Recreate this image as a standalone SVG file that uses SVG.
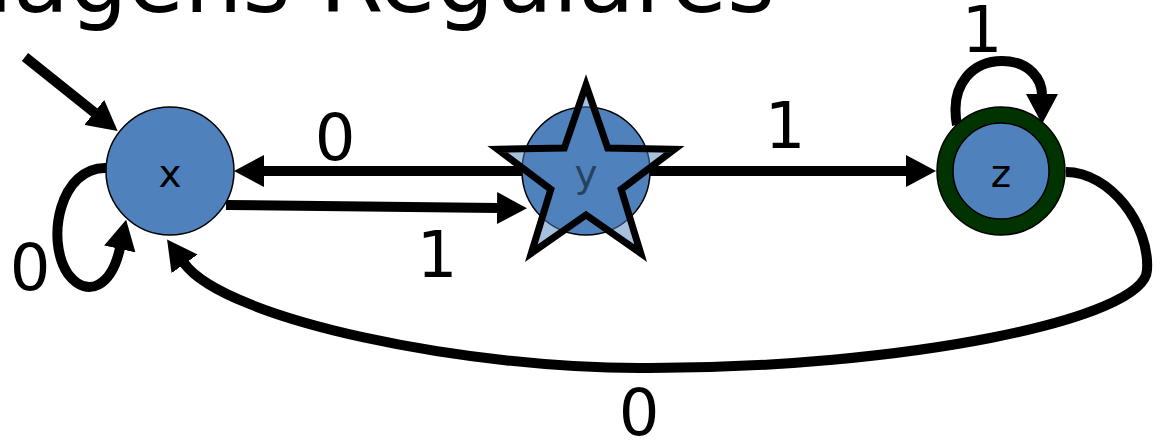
<svg xmlns="http://www.w3.org/2000/svg" width="1165" height="443" viewBox="0 0 1165 443">
<style>
.title{font-family:"DejaVu Sans","Liberation Sans",sans-serif;font-size:92px;fill:#000}
.lbl{font-family:"DejaVu Sans","Liberation Sans",sans-serif;font-size:64px;fill:#000;text-anchor:middle}
.nl{font-family:"DejaVu Sans","Liberation Sans",sans-serif;font-size:39px;fill:#000;text-anchor:middle}
.edge{fill:none;stroke:#000;stroke-width:10;marker-end:url(#ah)}
.st{fill:#4F81BD;stroke:#000;stroke-width:1.5}
</style>
<defs>
<marker id="ah" markerUnits="userSpaceOnUse" viewBox="0 0 30 32" refX="1" refY="16" markerWidth="30" markerHeight="32" orient="auto">
<path d="M0,0 L30,16 L0,32 Z" fill="#000"/>
</marker>
</defs>
<text class="title" x="775" y="12" text-anchor="end">Linguagens Regulares</text>
<g id="connectors">
<path class="edge" d="M25,57 L95,113"/>
<path class="edge" d="M107,168 C60,166 45,240 68,274 C88,300 112,285 120,248"/>
<path class="edge" d="M522,171 L263,171"/>
<path class="edge" d="M226,205 L498,208"/>
<path class="edge" d="M650,171 L907,171"/>
<path class="edge" d="M957,125 C949,82 975,61 1002,61 C1030,61 1042,80 1042,95"/>
<path class="edge" d="M1066,172 C1110,172 1150,225 1147,270 C1145,320 900,368 650,368 C470,370 225,320 184,263"/>
</g>
<g id="edge-labels">
<text class="lbl" x="30" y="290">0</text>
<text class="lbl" x="335" y="160">0</text>
<text class="lbl" x="437" y="277">1</text>
<text class="lbl" x="785" y="148">1</text>
<text class="lbl" x="982" y="52">1</text>
<text class="lbl" x="639" y="435">0</text>
</g>
<g id="node-x">
<circle class="st" cx="170" cy="171" r="64"/>
<text class="nl" x="170" y="187">x</text>
</g>
<g id="node-y">
<circle class="st" cx="586" cy="171" r="64"/>
<text class="nl" x="586" y="187">y</text>
<polygon points="586,85 607.7,148.1 674.4,149.3 621.2,189.4 640.7,253.2 586,215 531.3,253.2 550.8,189.4 497.6,149.3 564.3,148.1" fill="#4F81BD" fill-opacity="0.5" stroke="#000" stroke-width="7" stroke-linejoin="miter"/>
</g>
<g id="node-z">
<circle cx="1001" cy="171" r="64" fill="#003300" stroke="#000" stroke-width="1.5"/>
<circle class="st" cx="1001" cy="171" r="48"/>
<text class="nl" x="1001" y="187">z</text>
</g>
</svg>
